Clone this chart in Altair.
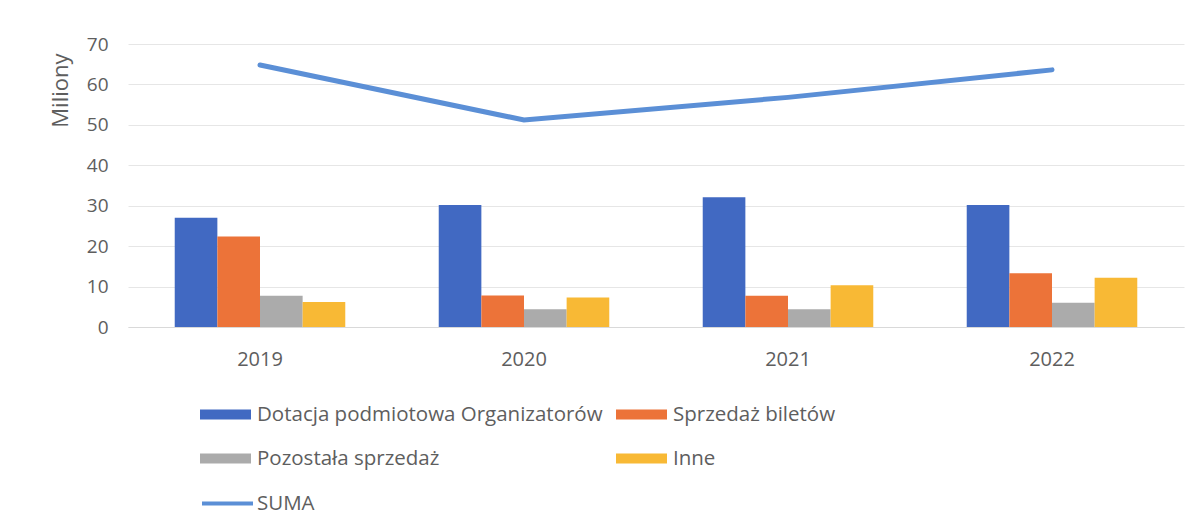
import altair as alt
import pandas as pd

years = ["2019", "2020", "2021", "2022"]
series = ["Dotacja podmiotowa Organizatorów", "Sprzedaż biletów", "Pozostała sprzedaż", "Inne"]
dotacja = [27.0, 30.2, 32.1, 30.2]
bilety = [22.4, 7.8, 7.7, 13.3]
pozostala = [7.7, 4.4, 4.4, 6.0]
inne = [6.2, 7.3, 10.3, 12.2]
suma = [64.8, 51.2, 56.8, 63.6]

bar_colors = ["#4169C2", "#EC7339", "#ABABAB", "#F8B935"]
line_color = "#5B8FD6"
text_color = "#5e5e5e"
FONT = "Open Sans"

rows = []
for name, vals in zip(series, [dotacja, bilety, pozostala, inne]):
    for y, v in zip(years, vals):
        rows.append({"year": y, "series": name, "value": v})
bar_df = pd.DataFrame(rows)
line_df = pd.DataFrame({"year": years, "value": suma, "name": ["SUMA"] * 4})

x_enc = alt.X(
    "year:N",
    sort=years,
    scale=alt.Scale(paddingInner=0.354, paddingOuter=0.177),
    axis=alt.Axis(title=None, labelAngle=0, ticks=False, domain=True,
                  domainColor="#d9d9d9", labelPadding=22, labelFontSize=20,
                  labelColor=text_color, labelFont=FONT),
)
y_enc = alt.Y(
    "value:Q",
    scale=alt.Scale(domain=[0, 70], nice=False),
    axis=alt.Axis(title="Miliony", values=list(range(0, 80, 10)), ticks=False,
                  domain=False, grid=True, gridColor="#e6e6e6", labelPadding=20,
                  labelFontSize=19, labelColor=text_color, labelFont=FONT,
                  titleFontSize=22, titleFontWeight="normal", titleColor=text_color,
                  titleFont=FONT, titlePadding=14, titleAnchor="end",
                  titleY=9, titleAlign="right"),
)

bars = alt.Chart(bar_df).mark_bar().encode(
    x=x_enc,
    xOffset=alt.XOffset("series:N", sort=series, scale=alt.Scale(paddingInner=0, paddingOuter=0)),
    y=y_enc,
    color=alt.Color(
        "series:N",
        sort=series,
        scale=alt.Scale(domain=series, range=bar_colors),
        legend=alt.Legend(
            title=None, orient="none", legendX=72, legendY=345, columns=2,
            direction="horizontal",
            symbolType="M-1,-0.2H1V0.2H-1Z", symbolSize=2601, symbolStrokeWidth=0,
            labelFontSize=20.5, labelColor=text_color, labelFont=FONT, labelOffset=6,
            labelLimit=0, columnPadding=13, rowPadding=8, padding=0, symbolOpacity=1,
        ),
    ),
)

line = alt.Chart(line_df).mark_line(strokeWidth=5, strokeCap="round").encode(
    x=alt.X("year:N", sort=years),
    y=alt.Y("value:Q"),
    stroke=alt.Stroke(
        "name:N",
        scale=alt.Scale(domain=["SUMA"], range=[line_color]),
        legend=alt.Legend(
            title=None, orient="none", legendX=72, legendY=432,
            symbolType="stroke", symbolSize=2601, symbolStrokeWidth=4,
            labelFontSize=20.5, labelColor=text_color, labelFont=FONT, labelOffset=2,
            padding=0,
        ),
    ),
)

chart = alt.layer(bars, line).properties(
    width=1056,
    height=283,
    autosize=alt.AutoSizeParams(type="none"),
    padding={"left": 120, "top": 36, "right": 8, "bottom": 193},
    background="white",
).configure_view(stroke=None)

chart.save("out.html", embed_options={"renderer": "svg", "actions": False})
